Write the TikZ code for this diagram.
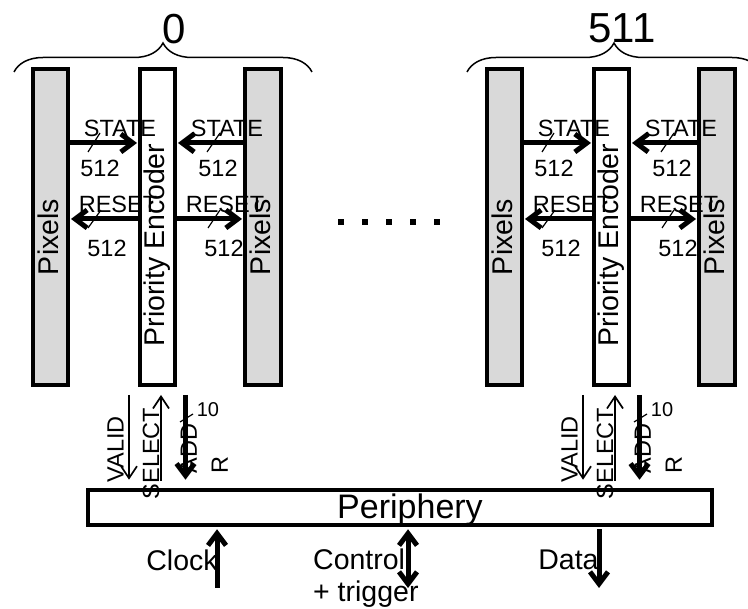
\documentclass[tikz,border=0pt]{standalone}
\usepackage{fontspec}
\setmainfont{Liberation Sans}
\usetikzlibrary{arrows.meta,decorations.pathreplacing,calc}
\definecolor{pixgray}{RGB}{217,217,217}

\begin{document}
\begin{tikzpicture}[x=1pt,y=-1pt,
  pix/.style={draw, line width=4pt, fill=pixgray, minimum width=35pt, minimum height=316pt, inner sep=0pt},
  enc/.style={draw, line width=4pt, fill=white, minimum width=35pt, minimum height=316pt, inner sep=0pt},
  bus/.style={line width=5pt, -{Straight Barb[length=12pt,width=18pt]}},
  sig/.style={line width=1.7pt, -{Straight Barb[length=12pt,width=16pt]}},
  lbl/.style={inner sep=0pt, font=\fontsize{23.5}{27}\selectfont},
  big/.style={inner sep=0pt, font=\fontsize{28.5}{32}\selectfont},
  slashmark/.style={line width=1.2pt},
]
\useasboundingbox (0,0) rectangle (748,609);
\clip (0,0) rectangle (748,609);

% periphery block
\node[draw, line width=4.5pt, minimum width=624pt, minimum height=35pt, inner sep=0pt] (per) at (400,507.5) {};

% column groups
\foreach \g/\dx in {a/0,b/454} {
  \node[pix] (\g-lp) at (50.5+\dx,227) {};
  \node[enc] (\g-pe) at (157.5+\dx,227) {};
  \node[pix, minimum width=36pt] (\g-rp) at (263+\dx,227) {};

  % STATE / RESET buses
  \draw[bus, shorten >=1pt] (\g-lp.east |- 0,143) -- (\g-pe.west |- 0,143);
  \draw[bus, shorten >=1pt] (\g-rp.west |- 0,143) -- (\g-pe.east |- 0,143);
  \draw[bus, shorten >=1pt] (\g-pe.west |- 0,219) -- (\g-lp.east |- 0,219);
  \draw[bus, shorten >=1pt] (\g-pe.east |- 0,219) -- (\g-rp.west |- 0,219);

  \draw[slashmark] (88+\dx,152) -- (100+\dx,133);
  \draw[slashmark] (207+\dx,152) -- (220+\dx,133);
  \draw[slashmark] (88+\dx,228) -- (101+\dx,210);
  \draw[slashmark] (208+\dx,228) -- (220+\dx,210);

  % encoder outputs
  \coordinate (\g-v1) at ($(\g-pe.south)+(-28.5,8)$);
  \coordinate (\g-s1) at ($(\g-pe.south)+(3.5,8)$);
  \coordinate (\g-d1) at ($(\g-pe.south)+(28,8)$);
  \draw[sig] (\g-v1) -- ($(\g-v1 |- per.north)+(0,-8)$);
  \draw[sig] ($(\g-s1 |- per.north)+(0,-7)$) -- (\g-s1);
  \draw[bus] (\g-d1) -- ($(\g-d1 |- per.north)+(0,-8)$);
  \draw[slashmark] ($(\g-d1)+(-5.5,27)$) -- ($(\g-d1)+(7.5,19)$);

  % labels
  \node[big, rotate=90] (\g-lpt) at (48+\dx,237) {Pixels};
  \node[big, rotate=90] (\g-pet) at (157+\dx,245) {Priority Encoder};
  \node[big, rotate=90] (\g-rpt) at (260.5+\dx,237) {Pixels};
  \node[lbl] (\g-st1) at (120+\dx,128) {STATE};
  \node[lbl] (\g-sn1) at (100+\dx,168) {512};
  \node[lbl] (\g-st2) at (227+\dx,128) {STATE};
  \node[lbl] (\g-sn2) at (218+\dx,168) {512};
  \node[lbl] (\g-rs1) at (118+\dx,204) {RESET};
  \node[lbl] (\g-rn1) at (107+\dx,248) {512};
  \node[lbl] (\g-rs2) at (225+\dx,204) {RESET};
  \node[lbl] (\g-rn2) at (224+\dx,248) {512};
  \node[lbl, rotate=90] (\g-vl) at ($(\g-v1)+(-13.5,54.5)$) {VALID};
  \node[lbl, rotate=90] (\g-sl) at ($(\g-s1)+(-10,58.5)$) {SELECT};
  \node[lbl, rotate=90, align=left, font=\fontsize{23.5}{31}\selectfont] (\g-al) at ($(\g-d1)+(18.75,53.8)$) {ADD\\R};
  \node[inner sep=0pt, font=\fontsize{20}{23}\selectfont] (\g-aw) at ($(\g-d1)+(22.5,15)$) {10};
}

% ellipsis between the groups
\foreach \x in {341,365,389,413,437} \fill (\x-3,219) rectangle (\x+3,225);

% group braces
\draw[line width=1.5pt, decorate, decoration={brace, amplitude=29pt}] (14,72) -- (312,72);
\draw[line width=1.5pt, decorate, decoration={brace, amplitude=29pt}] (467,72) -- (761,72);
\node[inner sep=0pt, font=\fontsize{42}{46}\selectfont] (n0) at (174,29) {0};
\node[inner sep=0pt, font=\fontsize{42}{46}\selectfont] (n511) at (622,28) {511};

% periphery I/O
\node[inner sep=0pt, anchor=base, font=\fontsize{34}{38}\selectfont] (pert) at (410,519) {Periphery};
\coordinate (clk) at (217,588);
\coordinate (ctl) at (408,588);
\coordinate (dat) at (599,588);
\draw[bus, shorten >=2pt] (clk) -- (clk |- per.south);
\draw[line width=5pt, {Straight Barb[length=12pt,width=18pt]}-{Straight Barb[length=12pt,width=18pt]}, shorten <=2pt] (ctl |- per.south) -- (ctl);
\draw[bus, shorten <=2pt] (dat |- per.south) -- (dat);
\node[big] (clkt) at (182,560) {Clock};
\node[big, anchor=north west, align=left] (ctlt) at (313,549) {Control\\+ trigger};
\node[big] (datt) at (568.5,560) {Data};
\end{tikzpicture}
\end{document}
